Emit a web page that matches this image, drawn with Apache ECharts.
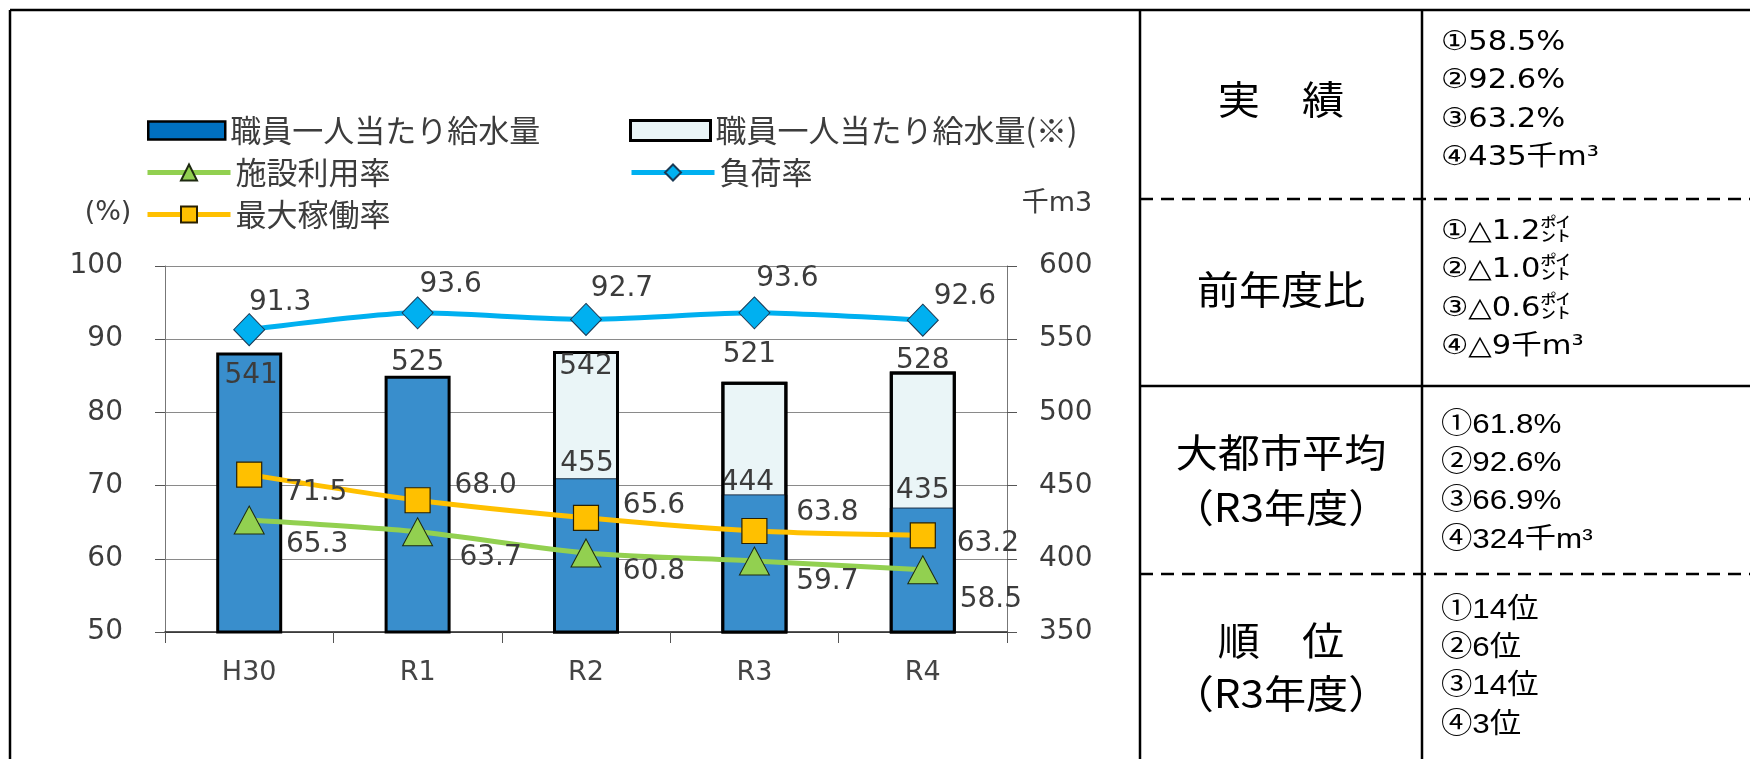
<!DOCTYPE html>
<html><head><meta charset="utf-8">
<script src="https://cdn.jsdelivr.net/npm/echarts@6/dist/echarts.min.js"></script>
<style>html,body{margin:0;padding:0;background:#fff}#c{width:1750px;height:759px}</style>
</head><body><div id="c"></div>
<script>
// ---- data ----
const categories = ['H30', 'R1', 'R2', 'R3', 'R4'];
const supplyPerStaff = [541, 525, 455, 444, 435];
const supplyPerStaffNote = [null, null, 542, 521, 528];
const facilityUtilization = [65.3, 63.7, 60.8, 59.7, 58.5];
const loadFactor = [91.3, 93.6, 92.7, 93.6, 92.6];
const maxOperation = [71.5, 68.0, 65.6, 63.8, 63.2];
const leftAxisRange = [50, 100, 10];
const rightAxisRange = [350, 600, 50];
const seriesNames = ['職員一人当たり給水量', '職員一人当たり給水量(※)', '施設利用率', '負荷率', '最大稼働率'];
const leftAxisName = '(%)';
const rightAxisName = '千m3';
const tableHeads = [['実　績'], ['前年度比'], ['大都市平均', '（R3年度）'], ['順　位', '（R3年度）']];
const tableValues = [
  ['①58.5%', '②92.6%', '③63.2%', '④435千m³'],
  ['①△1.2㌽', '②△1.0㌽', '③△0.6㌽', '④△9千m³'],
  ['①61.8%', '②92.6%', '③66.9%', '④324千m³'],
  ['①14位', '②6位', '③14位', '④3位']
];

// ---- label placement (styling only) ----
const blueLabelOffset = [[2, 37], [0, 0.5], [1, -0.5], [-7, 2.5], [0, -3]];
const noteLabelOffset = [null, null, [0, 29.5], [-5, -13], [0, 3]];
const loadLabelOffset = [[31, -27], [33, -28], [36, -31], [33, -34], [42, -23]];
const facLabelOffset = [[68, 25], [73, 26], [68, 19], [73, 21], [68, 30]];
const maxLabelOffset = [[67, 18], [68, -15], [68, -12], [73, -18], [65, 8]];

const NUM_FONT = "'DejaVu Sans', 'Noto Sans CJK JP', sans-serif";
const CJK_FONT = "'Noto Sans CJK JP', 'DejaVu Sans', sans-serif";
const TXT = '#3c3c3c';

const chart = echarts.init(document.getElementById('c'), null, { renderer: 'canvas' });

const barLabelBase = { show: true, position: 'top', distance: 0, fontFamily: NUM_FONT, fontSize: 28, lineHeight: 28, color: TXT };
const lineLabelBase = { show: true, position: 'inside', fontFamily: NUM_FONT, fontSize: 28, lineHeight: 28, color: TXT,
  formatter: p => Number(p.value).toFixed(1) };

const blueData = supplyPerStaff.map((v, i) => ({
  value: v,
  itemStyle: supplyPerStaffNote[i] != null ? { borderWidth: 1, borderColor: '#1c2f45' } : undefined,
  label: { offset: blueLabelOffset[i] }
}));
const noteFillData = supplyPerStaffNote.map(v => (v == null ? null : v));
const noteOutlineData = supplyPerStaffNote.map((v, i) => (v == null ? null : { value: v, label: { offset: noteLabelOffset[i] } }));
const mkLine = (vals, offs) => vals.map((v, i) => ({ value: v, label: { offset: offs[i] } }));

// ---- table graphics ----
const graphics = [];
const L = (x1, y1, x2, y2, dash) => graphics.push({
  type: 'line', silent: true,
  shape: { x1, y1, x2, y2 },
  style: { stroke: '#000', lineWidth: 2.5, lineDash: dash ? [13, 8] : null }
});
L(10, 10, 1750, 10);
L(10, 10, 10, 759);
L(1140, 10, 1140, 759);
L(1422, 10, 1422, 759);
L(1140, 199, 1750, 199, true);
L(1140, 386, 1750, 386);
L(1140, 574, 1750, 574, true);

const headY = [[99.6], [289], [452, 507], [640, 693]];
tableHeads.forEach((lines, r) => lines.forEach((t, k) => graphics.push({
  type: 'text', silent: true, x: 1281, y: headY[r][k], scaleX: 1.08,
  style: { text: t, font: "39px " + CJK_FONT, fill: '#000', align: 'center', verticalAlign: 'middle' }
})));
const valBaseY = [43, 232, 425, 610];
tableValues.forEach((lines, r) => lines.forEach((t, k) => graphics.push({
  type: 'text', silent: true, x: 1441, y: valBaseY[r] + k * 38.3, scaleX: r < 2 ? 1.13 : 1.12,
  style: {
    text: t,
    font: r < 2 ? "27px " + NUM_FONT : "28px 'Liberation Sans', 'Noto Sans CJK JP', sans-serif",
    fill: '#000', align: 'left', verticalAlign: 'middle'
  }
})));
graphics.push({ type: 'text', silent: true, x: 108, y: 213,
  style: { text: leftAxisName, font: "27px " + NUM_FONT, fill: TXT, align: 'center', verticalAlign: 'middle' } });
graphics.push({ type: 'text', silent: true, x: 1057, y: 204,
  style: { text: rightAxisName, font: "27px " + NUM_FONT, fill: TXT, align: 'center', verticalAlign: 'middle' } });

const legendBase = { padding: 0, selectedMode: false, orient: 'horizontal',
  textStyle: { fontFamily: CJK_FONT, fontSize: 31, color: TXT } };
const lineLegend = (left, top, name) => Object.assign({}, legendBase, {
  left, top, itemWidth: 83, itemHeight: 20,
  lineStyle: { width: 5 },
  textStyle: Object.assign({}, legendBase.textStyle, { padding: [0, 0, 12, 0] }),
  data: [{ name, lineStyle: { width: 5 } }]
});

const option = {
  backgroundColor: '#fff',
  animation: false,
  legend: [
    Object.assign({}, legendBase, { left: 147, top: 115, itemWidth: 77, itemHeight: 18, icon: 'rect',
      data: [{ name: seriesNames[0], itemStyle: { color: '#0070C0', borderWidth: 2.5, borderColor: '#000' } }] }),
    Object.assign({}, legendBase, { left: 629, top: 115, itemWidth: 80, itemHeight: 20, icon: 'rect',
      data: [{ name: seriesNames[1], itemStyle: { borderWidth: 3, borderColor: '#000' } }] }),
    lineLegend(145, 157, seriesNames[2]),
    lineLegend(629, 157, seriesNames[3]),
    lineLegend(145, 199, seriesNames[4])
  ],
  grid: { left: 165, right: 743, top: 266, bottom: 127, containLabel: false },
  xAxis: {
    type: 'category', data: categories, boundaryGap: true,
    axisLine: { lineStyle: { color: '#222', width: 1.5 } },
    axisTick: { show: true, length: 11, lineStyle: { color: '#555' } },
    axisLabel: { fontFamily: NUM_FONT, fontSize: 27, lineHeight: 28, color: '#444', margin: 27 }
  },
  yAxis: [
    { type: 'value', position: 'left', min: leftAxisRange[0], max: leftAxisRange[1], interval: leftAxisRange[2],
      axisLine: { show: true, lineStyle: { color: '#777' } },
      axisTick: { show: true, length: 10, lineStyle: { color: '#555' } },
      axisLabel: { fontFamily: NUM_FONT, fontSize: 28, color: TXT, margin: 42 },
      splitLine: { show: true, lineStyle: { color: '#8a8a8a', width: 1 } } },
    { type: 'value', position: 'right', min: rightAxisRange[0], max: rightAxisRange[1], interval: rightAxisRange[2],
      axisLine: { show: true, lineStyle: { color: '#777' } },
      axisTick: { show: true, length: 10, lineStyle: { color: '#555' } },
      axisLabel: { fontFamily: NUM_FONT, fontSize: 28, color: TXT, margin: 32 },
      splitLine: { show: false } }
  ],
  series: [
    // light fill of the (※) bars, behind
    { name: seriesNames[1], type: 'bar', yAxisIndex: 1, barWidth: 66, barGap: '-100%', z: 2,
      itemStyle: { color: '#EAF5F7', borderColor: '#000', borderWidth: 3 },
      label: { show: false }, data: noteFillData },
    { name: seriesNames[0], type: 'bar', yAxisIndex: 1, barWidth: 66, barGap: '-100%', z: 2,
      itemStyle: { color: '#398ECC', borderColor: '#000', borderWidth: 3 },
      label: barLabelBase, data: blueData },
    // outline of the (※) bars, in front
    { name: 'outline', type: 'bar', yAxisIndex: 1, barWidth: 66, barGap: '-100%', z: 3,
      itemStyle: { color: 'rgba(0,0,0,0)', borderColor: '#000', borderWidth: 3 },
      label: barLabelBase, data: noteOutlineData },
    { name: seriesNames[3], type: 'line', yAxisIndex: 0, z: 5, smooth: 0.2,
      symbol: 'diamond', symbolSize: [31, 32],
      lineStyle: { color: '#00B0F0', width: 5 },
      itemStyle: { color: '#00B0F0', borderColor: '#1b3a55', borderWidth: 1 },
      label: lineLabelBase, data: mkLine(loadFactor, loadLabelOffset) },
    { name: seriesNames[2], type: 'line', yAxisIndex: 0, z: 5, smooth: 0.25,
      symbol: 'triangle', symbolSize: [30, 28],
      lineStyle: { color: '#92D050', width: 5 },
      itemStyle: { color: '#92D050', borderColor: '#1e2a10', borderWidth: 1 },
      label: lineLabelBase, data: mkLine(facilityUtilization, facLabelOffset) },
    { name: seriesNames[4], type: 'line', yAxisIndex: 0, z: 5, smooth: 0.25,
      symbol: 'rect', symbolSize: 25,
      lineStyle: { color: '#FFC000', width: 5 },
      itemStyle: { color: '#FFC000', borderColor: '#2a2000', borderWidth: 1.2 },
      label: lineLabelBase, data: mkLine(maxOperation, maxLabelOffset) }
  ],
  graphic: graphics
};
chart.setOption(option);
</script></body></html>
